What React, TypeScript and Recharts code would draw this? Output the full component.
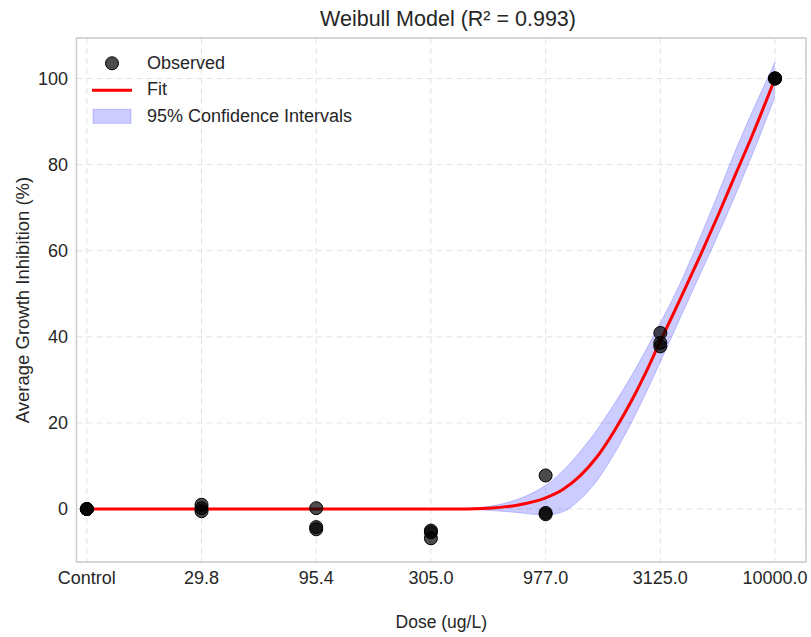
// Weibull dose-response fit with observed points and 95% CI band
import {
  ComposedChart,
  Area,
  Line,
  Scatter,
  XAxis,
  YAxis,
  CartesianGrid,
  ReferenceArea,
  Legend,
} from "recharts";

const FONT = '"Liberation Sans", Arial, Helvetica, sans-serif';

// dose levels, placed evenly on the x axis (index = position)
const doseLabels = ["Control", "29.8", "95.4", "305.0", "977.0", "3125.0", "10000.0"];

// observed replicates (dose index, inhibition %)
const obsDose = [0, 0, 0, 1, 1, 1, 2, 2, 2, 3, 3, 3, 4, 4, 4, 5, 5, 5, 6, 6, 6];
const obsInhibition = [
  0, 0, 0,
  1.0, 0.2, -0.5,
  0.2, -4.2, -4.7,
  -5.0, -5.4, -6.8,
  7.8, -0.9, -1.2,
  40.9, 38.6, 37.8,
  100, 100, 100,
];

// fitted curve and confidence limits
const fitDose = [0, 1, 2, 3, 3.25, 3.5, 3.75, 4, 4.15, 4.3, 4.45, 4.6, 4.75, 4.9, 5, 5.15, 5.35, 5.5, 5.66, 5.8, 6];
const fitValue = [0, 0, 0, 0, 0.02, 0.2, 0.9, 2.6, 4.55, 7.7, 12.2, 18.2, 25.2, 33.2, 39, 47.4, 59, 68, 78, 86.7, 100];
const ciLower = [0, 0, 0, 0, -0.05, -0.3, -0.8, -1.4, -0.65, 2.2, 6.7, 12.9, 20.2, 28.4, 34.2, 43, 54.7, 63.5, 73.3, 82.2, 95.8];
const ciUpper = [0, 0, 0, 0, 0.1, 0.6, 2.2, 5.5, 8.85, 13.3, 18.5, 24.5, 31, 38.2, 43.2, 51.1, 63.3, 73, 83.6, 92.2, 103.8];

const yTicks = [0, 20, 40, 60, 80, 100];
const xDomain: [number, number] = [-0.09, 6.27];
const yDomain: [number, number] = [-12.3, 109.4];

const fitData = fitDose.map((x, i) => ({
  x,
  fit: fitValue[i],
  ci: [ciLower[i], ciUpper[i]],
}));

const obsData = obsDose.map((x, i) => ({ x, y: obsInhibition[i] }));

function ObsDot(props: any) {
  const { cx, cy } = props;
  if (cx == null || cy == null) return null;
  return <circle cx={cx} cy={cy} r={6.5} fill="#000" fillOpacity={0.7} stroke="#000" strokeWidth={1} />;
}

function LegendBox() {
  const row = { display: "flex", alignItems: "center", height: 26.6 } as const;
  const text = { marginLeft: 15, fontSize: 18, color: "#262626", fontFamily: FONT, whiteSpace: "nowrap" } as const;
  return (
    <div>
      <div style={row}>
        <svg width={40} height={26.6}>
          <circle cx={20} cy={13.3} r={6.5} fill="#000" fillOpacity={0.7} stroke="#000" />
        </svg>
        <span style={text}>Observed</span>
      </div>
      <div style={row}>
        <svg width={40} height={26.6}>
          <line x1={0} x2={40} y1={13.3} y2={13.3} stroke="#ff0000" strokeWidth={3} />
        </svg>
        <span style={text}>Fit</span>
      </div>
      <div style={row}>
        <svg width={40} height={26.6}>
          <rect x={1} y={6.3} width={38} height={14} fill="#0000ff" fillOpacity={0.2} stroke="#0000ff" strokeOpacity={0.2} />
        </svg>
        <span style={text}>95% Confidence Intervals</span>
      </div>
    </div>
  );
}

export default function App() {
  return (
    <div style={{ position: "absolute", left: 0, top: 0, width: 811, height: 637, background: "#fff", fontFamily: FONT }}>
      <div
        style={{
          position: "absolute",
          left: 448,
          top: 9,
          transform: "translateX(-50%)",
          fontSize: 21.5,
          lineHeight: "21px",
          color: "#262626",
          whiteSpace: "nowrap",
        }}
      >
        Weibull Model (R² = 0.993)
      </div>
      <ComposedChart
        width={811}
        height={637}
        data={fitData}
        margin={{ top: 38, right: 5, bottom: 0, left: 0 }}
        style={{ fontFamily: FONT }}
      >
        <ReferenceArea
          x1={xDomain[0]}
          x2={xDomain[1]}
          y1={yDomain[0]}
          y2={yDomain[1]}
          fill="none"
          stroke="#cccccc"
          strokeWidth={1.5}
          ifOverflow="visible"
        />
        <CartesianGrid stroke="#e2e2e2" strokeDasharray="6 4" strokeWidth={1} />
        <XAxis
          type="number"
          dataKey="x"
          domain={xDomain}
          ticks={[0, 1, 2, 3, 4, 5, 6]}
          tickFormatter={(v: number) => doseLabels[v]}
          allowDataOverflow
          axisLine={false}
          tickLine={false}
          tickSize={6}
          tickMargin={3}
          height={75}
          tick={{ fontSize: 18, fill: "#262626", fontFamily: FONT }}
          interval={0}
          label={{
            content: (p: any) => {
              const vb = p.viewBox || { x: 76.5, width: 729.5 };
              return (
                <text x={vb.x + vb.width / 2} y={628} textAnchor="middle" fontSize={17.5} fill="#262626" fontFamily={FONT}>
                  Dose (ug/L)
                </text>
              );
            },
          }}
        />
        <YAxis
          type="number"
          domain={yDomain}
          ticks={yTicks}
          allowDataOverflow
          axisLine={false}
          tickLine={false}
          tickSize={6}
          tickMargin={2.5}
          width={76.5}
          tick={{ fontSize: 18, fill: "#262626", fontFamily: FONT }}
          label={{
            content: (p: any) => {
              const vb = p.viewBox || { y: 38, height: 524 };
              const cy = vb.y + vb.height / 2;
              return (
                <text
                  x={22.5}
                  y={cy}
                  transform={`rotate(-90, 22.5, ${cy})`}
                  textAnchor="middle"
                  dominantBaseline="central"
                  fontSize={18.5}
                  fill="#262626"
                  fontFamily={FONT}
                >
                  Average Growth Inhibition (%)
                </text>
              );
            },
          }}
        />
        <Area
          type="monotone"
          dataKey="ci"
          fill="#0000ff"
          fillOpacity={0.2}
          stroke="#0000ff"
          strokeOpacity={0.2}
          strokeWidth={1}
          isAnimationActive={false}
          activeDot={false}
        />
        <Scatter data={obsData} dataKey="y" shape={<ObsDot />} isAnimationActive={false} />
        <Line
          type="monotone"
          dataKey="fit"
          stroke="#ff0000"
          strokeWidth={3}
          dot={false}
          activeDot={false}
          isAnimationActive={false}
        />
        <Legend
          layout="vertical"
          align="center"
          verticalAlign="middle"
          content={<LegendBox />}
          wrapperStyle={{ position: "absolute", left: 92, top: 50, width: 320, height: 80 }}
        />
      </ComposedChart>
    </div>
  );
}
